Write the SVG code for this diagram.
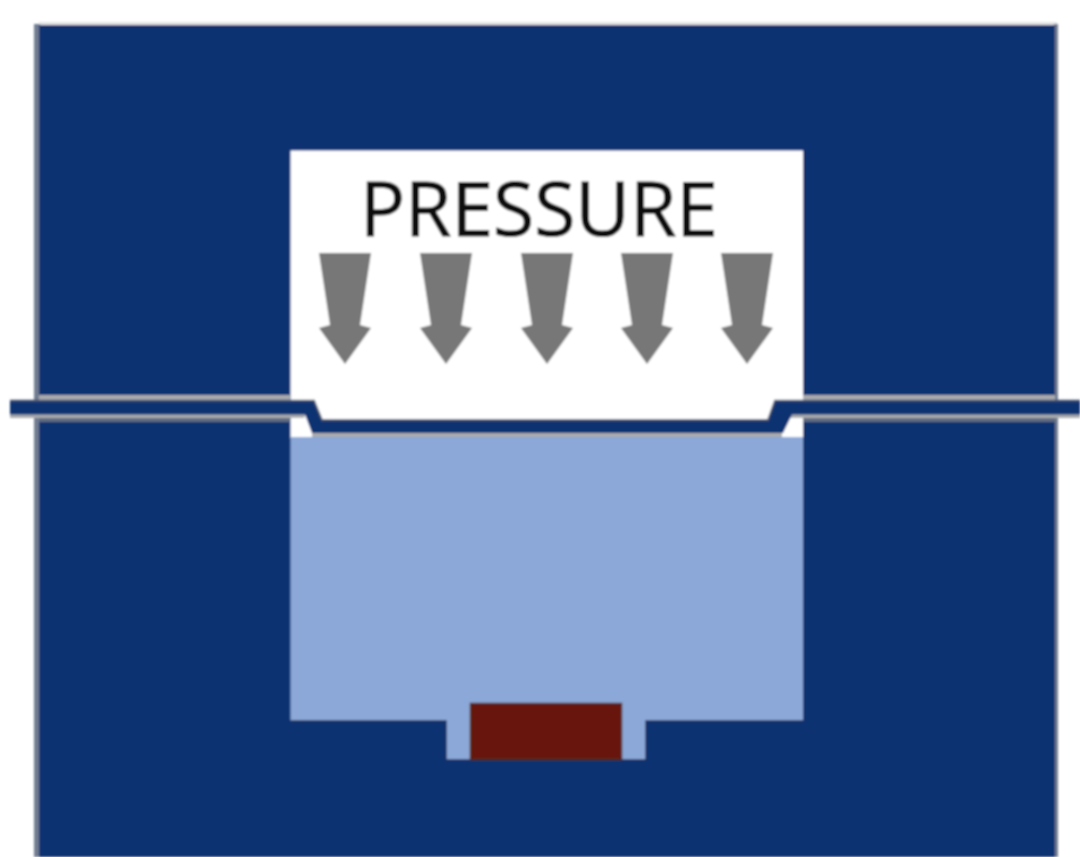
<svg xmlns="http://www.w3.org/2000/svg" width="1080" height="857" viewBox="0 0 1080 857">
<style>
.arrow{fill:#777777}
.blue{fill:#0c3272}
.edge{fill:#717b90}
.lg{fill:#a9abae}
.dg{fill:#5f6a80}
</style>
<defs>
<filter id="soft" x="-2%" y="-2%" width="104%" height="104%"><feGaussianBlur stdDeviation="1"/></filter>
<path id="ar" d="M-26 253H26L15 325L26 328L0 364L-26 328L-15 325Z"/>
</defs>
<rect width="1080" height="857" fill="#ffffff"/>
<g filter="url(#soft)">
<g id="mold">
<rect x="39" y="22" width="1018" height="3" fill="#e2e2e2"/>
<rect class="edge" x="34" y="24" width="6" height="833"/>
<rect class="edge" x="1054" y="24" width="4" height="833"/>
<rect class="blue" x="39" y="25" width="1016" height="832"/>
</g>
<g id="cavity-top">
<rect x="290.500" y="150.500" width="512.500" height="288" fill="#ffffff"/>
</g>
<g id="cavity-fill">
<path d="M290.500 437H803V721H646V760H446V721H290.500Z" fill="#8ba8d8"/>
<path d="M290.500 721H446V760H646V721H803" fill="none" stroke="#1d2f5c" stroke-width="1.500"/>
</g>
<g id="chip">
<rect x="470" y="703" width="152" height="57" fill="#67180a"/>
<rect x="470.500" y="703.500" width="151" height="56" fill="none" stroke="#4f2a24" stroke-width="1.500"/>
</g>
<g id="film">
<path class="lg" d="M39 395H290V400H39Z"/>
<path class="lg" d="M803 395H1055V400H803Z"/>
<path class="lg" d="M10 413H306L304 418H10Z"/>
<path class="lg" d="M790 413H1080V418H787Z"/>
<path class="dg" d="M39 418H290V422H39Z"/>
<path class="dg" d="M803 418H1055V422H803Z"/>
<path class="lg" d="M312 432H782V437H312Z"/>
<path d="M10 400H314L322 419.500H768L775 400H1080V414.500H792L783 433H312L305 414.500H10Z" fill="#0c3272"/>
<path d="M10 400.800H314L322 420.300H768L775 400.800H1080" fill="none" stroke="#46536f" stroke-width="2"/>
</g>
<g id="arrows" class="arrow">
<use href="#ar" x="345"/>
<use href="#ar" x="446"/>
<use href="#ar" x="547"/>
<use href="#ar" x="647"/>
<use href="#ar" x="747"/>
</g>
<g id="label">
<text x="539" y="236" text-anchor="middle" font-family="'Open Sans',sans-serif" font-size="75" fill="#111111" stroke="#111111" stroke-width="1">PRESSURE</text>
</g>
</g>
</svg>
